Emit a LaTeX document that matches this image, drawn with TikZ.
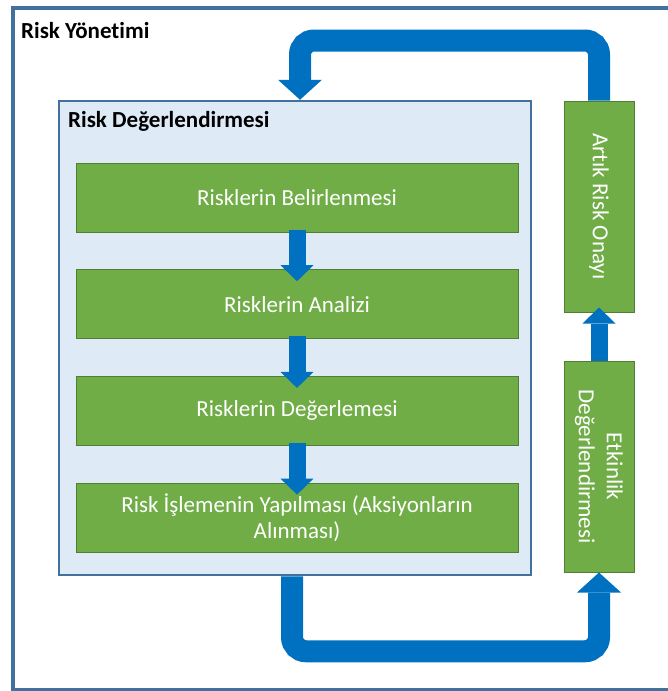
\documentclass[tikz,border=0pt]{standalone}
\usepackage{fontspec}
\setmainfont{Carlito}[Ligatures=NoCommon]
\usetikzlibrary{arrows.meta,positioning}

\definecolor{riskblue}{HTML}{41719C}
\definecolor{panelfill}{HTML}{DEEBF7}
\definecolor{stagegreen}{HTML}{70AD47}
\definecolor{stageedge}{HTML}{507E32}
\definecolor{flowblue}{HTML}{0070C0}

\begin{document}
\begin{tikzpicture}[x=1pt,y=1pt,node distance=106.7pt,
                    stage/.style={draw=stageedge,fill=stagegreen,text=white,line width=1pt,
                      minimum width=442pt,minimum height=69pt,align=center,
                      font=\fontsize{23}{26.5}\selectfont},
                    sidebox/.style={stage,minimum width=211pt,minimum height=70pt,rotate=-90,
                      font=\fontsize{23}{28}\selectfont},
                    heading/.style={anchor=base west,inner sep=0pt,
                      font=\fontsize{23}{26}\selectfont\bfseries},
                    smallflow/.style={draw=flowblue,line width=17pt,
                      -{Triangle[width=33pt,length=16pt,line width=0pt]}},
                    bigflow/.style={draw=flowblue,line width=22pt,rounded corners=14pt,
                      -{Triangle[width=44pt,length=20pt,line width=0pt]}}]

  \useasboundingbox (0,0) rectangle (668,-691);

  % outer frame
  \draw[riskblue,line width=4pt] (12.5,-7.5) rectangle (690,-689.5);
  \node[heading] (title) at (21,-38) {Risk Yönetimi};

  % assessment panel
  \node[draw=riskblue,fill=panelfill,line width=2.5pt,minimum width=472pt,
        minimum height=474pt] (deg) at (295,-338) {};
  \node[heading] (degtitle) at (68,-127) {Risk Değerlendirmesi};

  \node[stage]                (b1) at (297,-197.5) {Risklerin Belirlenmesi};
  \node[stage] [below of=b1]  (b2) {Risklerin Analizi};
  \node[stage] [below of=b2]  (b3) {Risklerin Değerlemesi};
  \node[stage] [below of=b3]  (b4) {Risk İşlemenin Yapılması (Aksiyonların\\Alınması)};

  \draw[smallflow] ([yshift=3pt]b1.south) -- ([yshift=-12pt]b2.north);
  \draw[smallflow] ([yshift=3pt]b2.south) -- ([yshift=-12pt]b3.north);
  \draw[smallflow] ([yshift=3pt]b3.south) -- ([yshift=-12pt]b4.north);

  % side column (rotated: west is the top, east the bottom)
  \node[sidebox] (onay)  at (599,-206.5) {Artık Risk Onayı};
  \node[sidebox] (etkin) at (599,-466.5) {Etkinlik\\Değerlendirmesi};

  \draw[smallflow] (etkin.west) -- ([yshift=5pt]onay.east);

  % loop arrows
  \draw[bigflow] ([xshift=-3pt]deg.south) -- ++(0,-75) -| (etkin.east);
  \draw[bigflow] (onay.west) -- ++(0,60) -| ([xshift=5pt]deg.north);
\end{tikzpicture}
\end{document}
